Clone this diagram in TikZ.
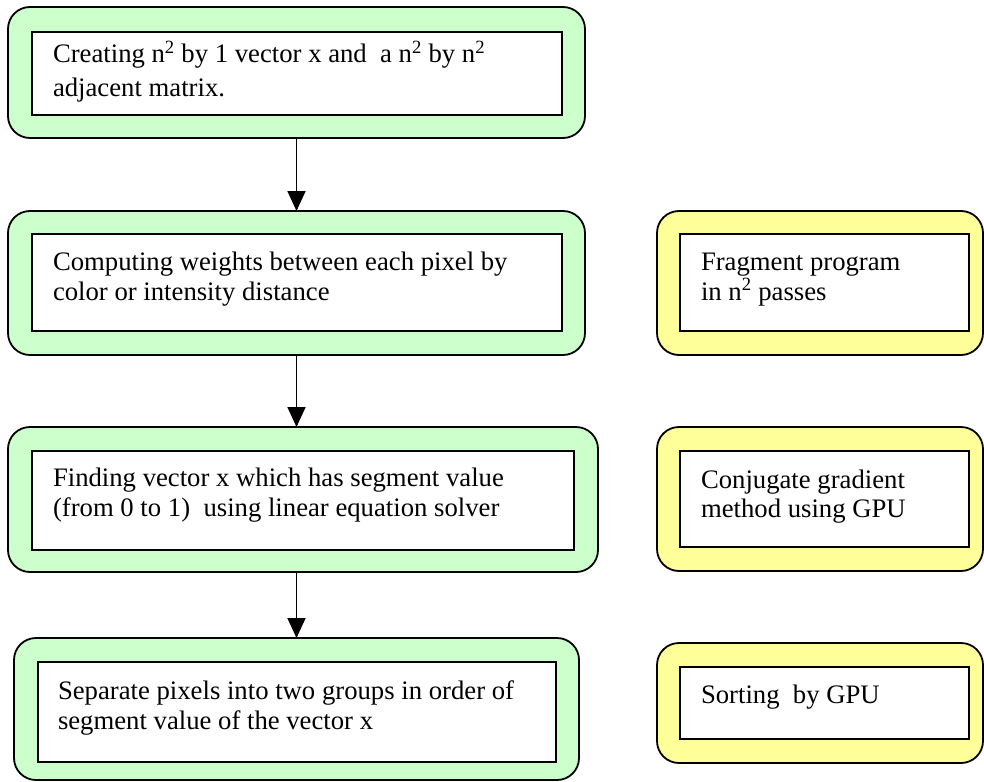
\documentclass[tikz,border=0pt]{standalone}
\usepackage{fontspec}
\setmainfont{Liberation Serif}
\usetikzlibrary{arrows.meta}
\definecolor{stepgreen}{HTML}{CCFFCC}
\definecolor{gpuyellow}{HTML}{FFFF99}
\begin{document}
\begin{tikzpicture}[x=1pt, y=-1pt,
  frame/.style={draw, line width=1.8pt, rounded corners=22pt, anchor=north west,
    inner sep=0pt, outer sep=0pt},
  stepframe/.style={frame, fill=stepgreen},
  gpuframe/.style={frame, fill=gpuyellow},
  panel/.style={draw, line width=1.8pt, fill=white, anchor=north west,
    inner sep=0pt, outer sep=0pt},
  label/.style={anchor=base west, inner sep=0pt, outer sep=0pt,
    font=\fontsize{26.7}{30}\selectfont},
  flow/.style={line width=1.8pt, -{Triangle[length=20pt, width=18pt]}}]

\useasboundingbox (0,0) rectangle (984,781);

% main pipeline, left column
\node[stepframe, minimum width=577pt, minimum height=131pt] (g1) at (8,7) {};
\node[panel, minimum width=530pt, minimum height=83pt] (p1) at (32,32) {};
\node[label] (t1a) at (53,63) {Creating n\textsuperscript{2} by 1 vector x and\ \ a n\textsuperscript{2} by n\textsuperscript{2}};
\node[label] (t1b) at (53,97) {adjacent matrix.};

\node[stepframe, minimum width=577pt, minimum height=144pt] (g2) at (8,211) {};
\node[panel, minimum width=530pt, minimum height=97pt] (p2) at (32,234) {};
\node[label] (t2a) at (53,270) {Computing weights between each pixel by};
\node[label] (t2b) at (53,300) {color or intensity distance};

\node[stepframe, minimum width=590pt, minimum height=145pt] (g3) at (8,427) {};
\node[panel, minimum width=542pt, minimum height=99pt] (p3) at (32,451) {};
\node[label] (t3a) at (53,486) {Finding vector x which has segment value};
\node[label] (t3b) at (53,516) {(from 0 to 1)\ \ using linear equation solver};

\node[stepframe, minimum width=565pt, minimum height=142pt] (g4) at (14,638) {};
\node[panel, minimum width=518pt, minimum height=100pt] (p4) at (38,662) {};
\node[label] (t4a) at (58,699) {Separate pixels into two groups in order of};
\node[label] (t4b) at (58,729) {segment value of the vector x};

% GPU implementations, right column
\node[gpuframe, minimum width=326pt, minimum height=144pt] (y2) at (657,211) {};
\node[panel, minimum width=289pt, minimum height=97pt] (q2) at (680,234) {};
\node[label] (u2a) at (701,270) {Fragment program};
\node[label] (u2b) at (701,300) {in n\textsuperscript{2} passes};

\node[gpuframe, minimum width=326pt, minimum height=144pt] (y3) at (657,427) {};
\node[panel, minimum width=289pt, minimum height=96pt] (q3) at (680,451) {};
\node[label] (u3a) at (701,488) {Conjugate gradient};
\node[label] (u3b) at (701,517) {method using GPU};

\node[gpuframe, minimum width=326pt, minimum height=120pt] (y4) at (657,643) {};
\node[panel, minimum width=289pt, minimum height=72pt] (q4) at (680,667) {};
\node[label] (u4a) at (701,703) {Sorting\ \ by GPU};

% connectors
\draw[flow] (g1.south) -- (g2.north);
\draw[flow] (g2.south) -- (g2.south |- g3.north);
\draw[flow] (g4.north |- g3.south) -- (g4.north);
\end{tikzpicture}
\end{document}
